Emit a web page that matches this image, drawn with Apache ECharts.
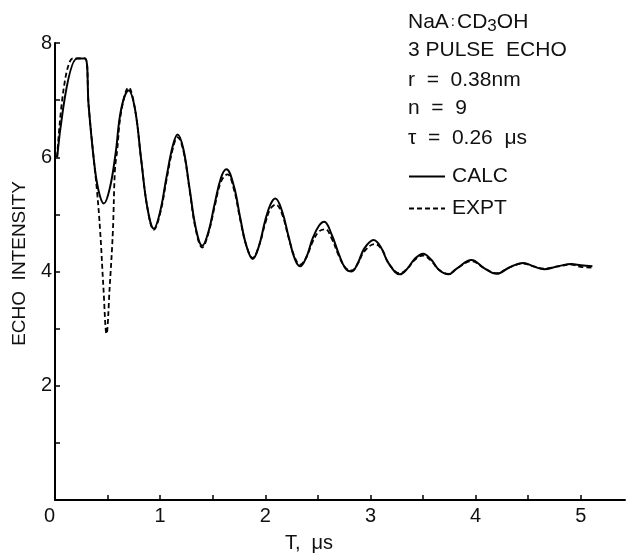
<!DOCTYPE html>
<html>
<head>
<meta charset="utf-8">
<title>NaA:CD3OH 3 pulse echo</title>
<script src="https://cdn.jsdelivr.net/npm/echarts@6/dist/echarts.min.js"></script>
<style>
  html, body { margin: 0; padding: 0; background: #fff; }
  #chart { width: 627px; height: 558px; }
</style>
</head>
<body>
<div id="chart"></div>
<script>
// Calculated echo intensity versus pulse separation T (µs)
var calcT = [0.02, 0.21, 0.285, 0.32, 0.365, 0.41, 0.465, 0.52, 0.575, 0.63, 0.70,
  0.76, 0.82, 0.88, 0.94, 1.00, 1.06, 1.12, 1.165, 1.22, 1.28, 1.34, 1.40,
  1.46, 1.52, 1.58, 1.63, 1.70, 1.76, 1.82, 1.88, 1.94, 2.00, 2.05, 2.095,
  2.16, 2.22, 2.28, 2.33, 2.39, 2.45, 2.51, 2.56, 2.63, 2.70, 2.76, 2.82,
  2.88, 2.94, 3.03, 3.10, 3.17, 3.28, 3.35, 3.42, 3.50, 3.58, 3.65, 3.74,
  3.82, 3.96, 4.08, 4.20, 4.32, 4.45, 4.55, 4.65, 4.78, 4.91, 5.00, 5.11];
var calcI = [6.00, 7.73, 7.73, 6.90, 6.03, 5.45, 5.19, 5.45, 6.05, 6.85, 7.17,
  6.85, 5.95, 5.10, 4.75, 5.05, 5.65, 6.20, 6.40, 6.15, 5.45, 4.75, 4.45,
  4.70, 5.20, 5.65, 5.79, 5.50, 4.95, 4.45, 4.22, 4.45, 4.90, 5.18, 5.28,
  5.05, 4.62, 4.22, 4.09, 4.25, 4.58, 4.80, 4.87, 4.65, 4.30, 4.06, 4.00,
  4.15, 4.40, 4.55, 4.42, 4.15, 3.95, 4.05, 4.22, 4.31, 4.20, 4.03, 3.95,
  4.05, 4.20, 4.06, 3.96, 4.07, 4.15, 4.09, 4.04, 4.09, 4.13, 4.11, 4.09];

// Measured echo intensity
var exptT = [0.02, 0.17, 0.285, 0.32, 0.365, 0.40, 0.43, 0.46, 0.49, 0.52, 0.55,
  0.57, 0.59, 0.63, 0.70, 0.76, 0.82, 0.88, 0.94, 1.00, 1.06, 1.12, 1.165,
  1.22, 1.28, 1.34, 1.40, 1.46, 1.52, 1.58, 1.64, 1.70, 1.76, 1.82, 1.88,
  1.94, 2.00, 2.05, 2.10, 2.16, 2.22, 2.28, 2.33, 2.39, 2.45, 2.51, 2.57,
  2.63, 2.70, 2.76, 2.82, 2.88, 2.94, 3.04, 3.11, 3.18, 3.28, 3.35, 3.42,
  3.50, 3.58, 3.65, 3.74, 3.82, 3.96, 4.08, 4.20, 4.32, 4.45, 4.55, 4.65,
  4.78, 4.91, 5.00, 5.11];
var exptI = [6.00, 7.73, 7.73, 6.90, 6.03, 5.40, 4.69, 3.73, 2.91, 3.73, 4.69,
  5.78, 6.10, 6.80, 7.22, 6.85, 5.95, 5.10, 4.73, 5.02, 5.60, 6.15, 6.35,
  6.12, 5.42, 4.72, 4.42, 4.68, 5.15, 5.58, 5.70, 5.45, 4.92, 4.45, 4.24,
  4.45, 4.85, 5.10, 5.17, 5.00, 4.60, 4.25, 4.12, 4.25, 4.52, 4.70, 4.74,
  4.58, 4.27, 4.07, 4.02, 4.14, 4.35, 4.48, 4.38, 4.12, 3.97, 4.05, 4.20,
  4.28, 4.18, 4.03, 3.96, 4.05, 4.18, 4.06, 3.97, 4.07, 4.14, 4.09, 4.05,
  4.09, 4.12, 4.08, 4.07];

// Axis ticks and labels
var xTicks = [0, 0.5, 1, 1.5, 2, 2.5, 3, 3.5, 4, 4.5, 5];
var xLabels = [0, 1, 2, 3, 4, 5];
var yTicks = [0, 1, 2, 3, 4, 5, 6, 7, 8];
var yLabels = [2, 4, 6, 8];

// Parameter block in the upper right
var infoLines = [
  'NaA{c|:}CD{sub|3}OH',
  '3 PULSE  ECHO',
  'r  =  0.38nm',
  'n  =  9',
  'τ  =  0.26  μs'
];
var infoY = [22, 50, 80, 108, 138];

var FONT = '"Liberation Sans", Arial, sans-serif';
var INK = '#111';

function pairs(xs, ys) {
  return xs.map(function (x, i) { return [x, ys[i]]; });
}

var chart = echarts.init(document.getElementById('chart'), null, { renderer: 'canvas' });

var graphics = infoLines.map(function (line, i) {
  return {
    type: 'text',
    x: 408,
    y: infoY[i],
    style: {
      text: line,
      fill: INK,
      font: '21px ' + FONT,
      verticalAlign: 'middle',
      rich: {
        sub: { fontSize: 17, fontFamily: FONT, fill: INK, padding: [9, 0, 0, 0] },
        c: { fontSize: 15, fontFamily: FONT, fill: INK, padding: [0, 2, 0, 2] }
      }
    }
  };
});

chart.setOption({
  animation: false,
  backgroundColor: '#fff',
  textStyle: { fontFamily: FONT, color: INK },
  grid: { left: 55, right: 2, top: 43, bottom: 58, outerBoundsMode: 'none', containLabel: false },
  graphic: graphics,
  legend: {
    orient: 'vertical',
    left: 403,
    top: 161,
    itemWidth: 36,
    itemHeight: 20,
    itemGap: 11,
    selectedMode: false,
    data: ['CALC', 'EXPT'],
    itemStyle: { opacity: 0 },
    textStyle: { fontSize: 21, fontFamily: FONT, color: INK, lineHeight: 20, padding: [0, 0, 0, 2] }
  },
  xAxis: {
    type: 'value',
    min: 0,
    max: 5.42,
    name: 'T,  μs',
    nameLocation: 'middle',
    nameGap: 33,
    nameTextStyle: { fontSize: 20, fontFamily: FONT, color: INK, padding: [0, 62, 0, 0] },
    splitLine: { show: false },
    axisLine: { show: true, onZero: false, lineStyle: { color: '#000', width: 2 } },
    axisTick: { show: true, inside: true, length: 5, customValues: xTicks, lineStyle: { color: '#000', width: 1.5 } },
    axisLabel: { customValues: xLabels, margin: 6, fontSize: 20, fontFamily: FONT, color: INK, alignMinLabel: 'right' }
  },
  yAxis: {
    type: 'value',
    min: 0,
    max: 8,
    name: 'ECHO  INTENSITY',
    nameLocation: 'middle',
    nameGap: 26,
    nameRotate: 90,
    nameTextStyle: { fontSize: 19, fontFamily: FONT, color: INK, padding: [0, 0, 0, 16] },
    splitLine: { show: false },
    axisLine: { show: true, onZero: false, lineStyle: { color: '#000', width: 2 } },
    axisTick: { show: true, inside: true, length: 5, customValues: yTicks, lineStyle: { color: '#000', width: 1.5 } },
    axisLabel: { customValues: yLabels, margin: 3, fontSize: 20, fontFamily: FONT, color: INK }
  },
  series: [
    {
      name: 'CALC',
      type: 'line',
      data: pairs(calcT, calcI),
      smooth: 0.4,
      showSymbol: false,
      symbol: 'none',
      color: '#000',
      lineStyle: { color: '#000', width: 2, type: 'solid' },
      z: 3
    },
    {
      name: 'EXPT',
      type: 'line',
      data: pairs(exptT, exptI),
      smooth: 0.4,
      showSymbol: false,
      symbol: 'none',
      color: '#000',
      lineStyle: { color: '#000', width: 1.8, type: [5, 3] },
      z: 2
    }
  ]
});
</script>
</body>
</html>
